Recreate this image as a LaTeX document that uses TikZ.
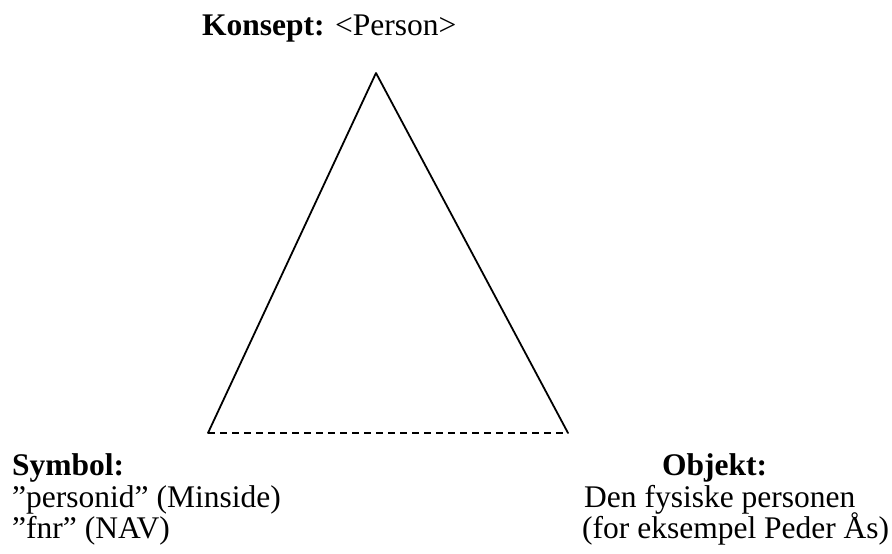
\documentclass[tikz,border=0pt]{standalone}
\usepackage{fontspec}
\setmainfont{Liberation Serif}
\begin{document}
\begin{tikzpicture}[x=1pt,y=-1pt,
  lbl/.style={anchor=base west,inner sep=0pt,font=\fontsize{31.5}{32}\selectfont},
  side/.style={line width=1.8pt,line cap=round,line join=round},
  dashside/.style={line width=1.8pt,dash pattern=on 7pt off 5pt}]
\useasboundingbox (0,0) rectangle (892,554);
\coordinate (A) at (376,73);
\coordinate (B) at (208,433);
\coordinate (C) at (568,433);
\draw[side] (B) -- (A) -- (C);
\draw[dashside] (B) -- (C);
\node[lbl] (konsept) at (202,35) {\textbf{Konsept:} <Person>};
\node[lbl] (symbol) at (12,475) {\textbf{Symbol:}};
\node[lbl] (sym1) at (12,507) {”personid” (Minside)};
\node[lbl] (sym2) at (12,538) {”fnr” (NAV)};
\node[lbl] (objekt) at (662,475) {\textbf{Objekt:}};
\node[lbl] (obj1) at (584,507) {Den fysiske personen};
\node[lbl] (obj2) at (582,538) {(for eksempel Peder Ås)};
\end{tikzpicture}
\end{document}
